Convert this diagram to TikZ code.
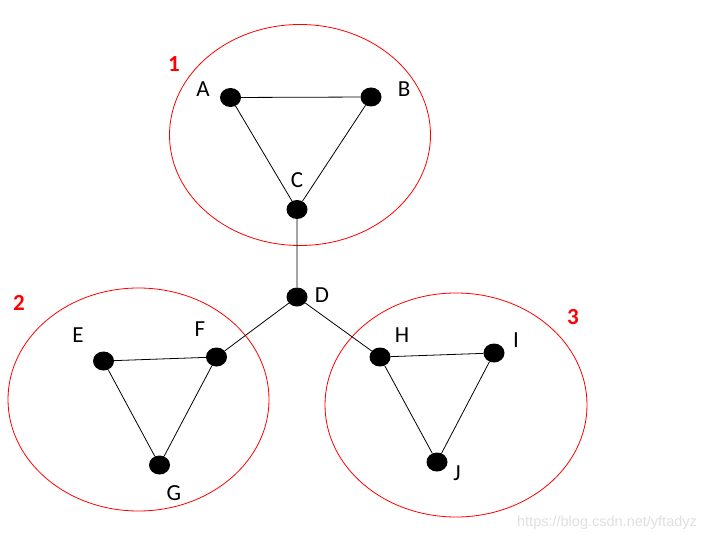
\documentclass[tikz,border=0pt]{standalone}
\usepackage{fontspec}
\usetikzlibrary{shapes.geometric}
\setmainfont{Carlito}
\newfontfamily\wmfont{Liberation Sans}
\begin{document}
\begin{tikzpicture}[x=1pt,y=-1pt,
  dot/.style={ellipse,fill=black,minimum width=21pt,minimum height=19pt,inner sep=0pt},
  lbl/.style={font=\fontsize{23}{27}\selectfont,inner sep=0pt},
  grp/.style={draw=red,line width=0.8pt},
  num/.style={font=\fontsize{23}{27}\selectfont\bfseries,text=red,inner sep=0pt},
  edge/.style={draw=black,line width=0.8pt}]
\useasboundingbox[fill=white] (0,0) rectangle (714,540);
\draw[grp] (300,135) ellipse [x radius=130.5,y radius=110.5];
\draw[grp] (138.5,399.5) ellipse [x radius=130.5,y radius=111.5];
\draw[grp] (456,405) ellipse [x radius=131,y radius=112];
\node[dot] (A) at (230.5,97.5) {};
\node[dot] (B) at (371,97) {};
\node[dot] (C) at (297,209.5) {};
\node[dot] (D) at (297,297) {};
\node[dot] (E) at (103.5,361) {};
\node[dot] (F) at (216.5,357) {};
\node[dot] (G) at (159.5,465) {};
\node[dot] (H) at (380,357) {};
\node[dot] (I) at (494,353) {};
\node[dot] (J) at (437,462) {};
\draw[edge] (A) -- (B) (A) -- (C) (B) -- (C) (C) -- (D) (D) -- (F) (D) -- (H)
  (E) -- (F) (E) -- (G) (F) -- (G) (H) -- (I) (H) -- (J) (I) -- (J);
\node[lbl] (tA) at (203,89) {A};
\node[lbl] (tB) at (404,89) {B};
\node[lbl] (tC) at (297,180) {C};
\node[lbl] (tD) at (322,295) {D};
\node[lbl] (tE) at (78,335) {E};
\node[lbl] (tF) at (200,329) {F};
\node[lbl] (tG) at (174,493) {G};
\node[lbl] (tH) at (402,335) {H};
\node[lbl] (tI) at (516,340) {I};
\node[lbl] (tJ) at (457,473) {J};
\node[num] (n1) at (174,64) {1};
\node[num] (n2) at (19,303) {2};
\node[num] (n3) at (573,317) {3};
\node[font=\wmfont\fontsize{14.5}{18}\selectfont,text=black!12,inner sep=0pt] (wm) at (607,523) {https://blog.csdn.net/yftadyz};
\end{tikzpicture}
\end{document}
